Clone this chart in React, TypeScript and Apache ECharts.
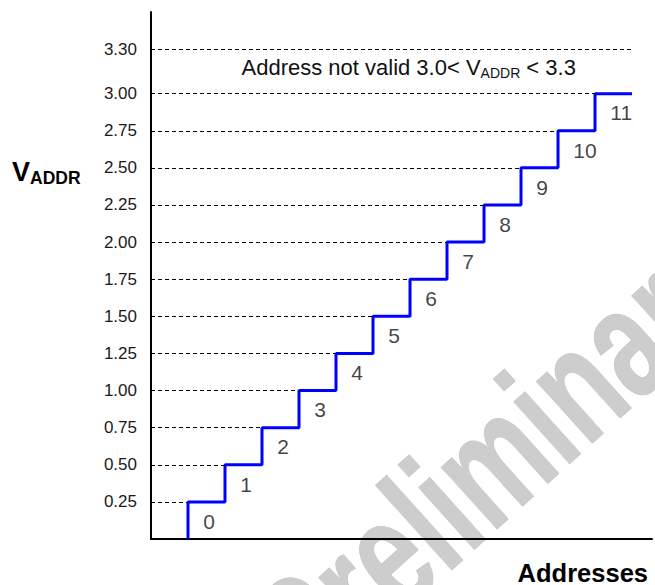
import React, { useEffect, useRef } from 'react';
import * as echarts from 'echarts';

// ---- data ----
const addresses = [0, 1, 2, 3, 4, 5, 6, 7, 8, 9, 10, 11];
const levels = [0.25, 0.5, 0.75, 1.0, 1.25, 1.5, 1.75, 2.0, 2.25, 2.5, 2.75, 3.0];
const yTickValues = [0.25, 0.5, 0.75, 1.0, 1.25, 1.5, 1.75, 2.0, 2.25, 2.5, 2.75, 3.0, 3.3];
const invalidLimit = 3.3;
const yMax = 3.55;
const xMax = 13.54;

const FONT = '"Liberation Sans", Arial, Helvetica, sans-serif';

export default function App() {
  const ref = useRef<HTMLDivElement>(null);

  useEffect(() => {
    document.body.style.margin = '0';
    const chart = echarts.init(ref.current as HTMLDivElement, null, { renderer: 'svg' });

    // staircase: first point at address 0's position on the x axis, then one step per address
    const stairs: number[][] = [[addresses[0] + 1, 0]];
    addresses.forEach((a, i) => stairs.push([a + 2, levels[i]]));

    const gridLines: any[] = levels.map((v, i) => [
      { coord: [0, v] },
      { coord: [addresses[i] + 1, v] },
    ]);
    gridLines.push([{ coord: [0, invalidLimit] }, { coord: [addresses.length + 1, invalidLimit] }]);

    const stepLabels = addresses.map((a, i) => [a + 1.4, levels[i] - 0.13, a]);

    const option: any = {
      animation: false,
      textStyle: { fontFamily: FONT },
      grid: { left: 151, right: 3, top: 12, bottom: 46, containLabel: false },
      xAxis: {
        type: 'value',
        min: 0,
        max: xMax,
        axisLine: { show: true, onZero: false, lineStyle: { color: '#000', width: 2 } },
        axisTick: { show: false },
        axisLabel: { show: false },
        splitLine: { show: false },
      },
      yAxis: {
        type: 'value',
        min: 0,
        max: yMax,
        interval: 0.05,
        axisLine: { show: true, lineStyle: { color: '#000', width: 2 } },
        axisTick: { show: false },
        splitLine: { show: false },
        axisLabel: {
          margin: 14,
          fontSize: 17,
          color: '#1a1a1a',
          fontFamily: FONT,
          formatter: (v: number) =>
            yTickValues.some((t) => Math.abs(t - v) < 1e-6) ? v.toFixed(2) : '',
        },
      },
      graphic: [
        {
          type: 'text',
          z: -10,
          x: 314,
          y: 693,
          rotation: (42 * Math.PI) / 180,
          scaleX: 0.7,
          scaleY: 1,
          silent: true,
          style: {
            text: 'Preliminary',
            x: 0,
            y: -54,
            fontSize: 157,
            fontWeight: 'bold',
            fontFamily: FONT,
            fill: '#cdcdcd',
            stroke: '#bdbdbd',
            lineWidth: 1,
            align: 'left',
            verticalAlign: 'middle',
          },
        },
        {
          type: 'text',
          x: 241.5,
          y: 67,
          style: {
            text: '{a|Address not valid 3.0< V}{s|ADDR}{a| < 3.3}',
            verticalAlign: 'middle',
            rich: {
              a: { fontSize: 22, lineHeight: 26, fontFamily: FONT, fill: '#111' },
              s: {
                fontSize: 14,
                lineHeight: 14,
                fontFamily: FONT,
                fill: '#111',
                verticalAlign: 'bottom',
              },
            },
          },
        },
        {
          type: 'text',
          x: 12,
          y: 172,
          style: {
            text: '{v|V}{s|ADDR}',
            verticalAlign: 'middle',
            rich: {
              v: { fontSize: 27, fontWeight: 'bold', lineHeight: 30, fontFamily: FONT, fill: '#000' },
              s: {
                fontSize: 17.5,
                fontWeight: 'bold',
                lineHeight: 17.5,
                fontFamily: FONT,
                fill: '#000',
                verticalAlign: 'bottom',
              },
            },
          },
        },
        {
          type: 'text',
          x: 648,
          y: 573,
          style: {
            text: 'Addresses',
            fontSize: 25.5,
            fontWeight: 'bold',
            fontFamily: FONT,
            fill: '#000',
            align: 'right',
            verticalAlign: 'middle',
          },
        },
      ],
      series: [
        {
          type: 'line',
          data: stairs,
          step: 'start',
          showSymbol: false,
          symbol: 'none',
          z: 3,
          lineStyle: { color: '#0000ff', width: 3 },
          markLine: {
            silent: true,
            symbol: ['none', 'none'],
            label: { show: false },
            lineStyle: { color: '#000', width: 1, type: [4, 3] },
            data: gridLines,
          },
        },
        {
          type: 'scatter',
          data: stepLabels,
          symbolSize: 1,
          itemStyle: { color: 'rgba(0,0,0,0)' },
          silent: true,
          label: {
            show: true,
            position: 'right',
            distance: 0,
            fontSize: 21,
            color: '#111',
            fontFamily: FONT,
            formatter: (p: any) => String(p.value[2]),
          },
        },
      ],
    };

    chart.setOption(option);
    return () => chart.dispose();
  }, []);

  return <div ref={ref} style={{ width: 655, height: 585 }} />;
}
